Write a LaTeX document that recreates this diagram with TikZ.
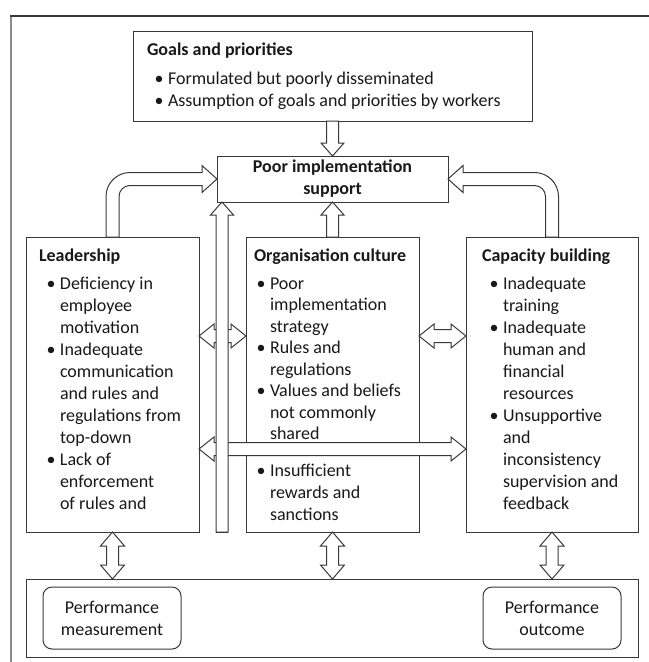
\documentclass[tikz,border=0pt]{standalone}
\usepackage{fontspec}
\setmainfont{Carlito}
\usetikzlibrary{calc}
\definecolor{linegray}{gray}{0.22}
\definecolor{framegray}{gray}{0.55}
\definecolor{inkgray}{gray}{0.1}
\newcommand\bodyfont{\fontsize{18bp}{22bp}\selectfont}
\newcommand\bul{\leavevmode\llap{•\hspace{4.5bp}}}

% vertical block arrow, #1 = tail, #2 = tip (tip above tail)
\newcommand\blockup[2]{%
  \filldraw[arr] let \p1=(#1), \p2=(#2) in
   (\x2-6bp,\y1) -- (\x2-6bp,\y2-13bp) -- (\x2-11.5bp,\y2-13bp) -- (\x2,\y2)
   -- (\x2+11.5bp,\y2-13bp) -- (\x2+6bp,\y2-13bp) -- (\x2+6bp,\y1) -- cycle;}
% vertical block arrow, tip below tail
\newcommand\blockdown[2]{%
  \filldraw[arr] let \p1=(#1), \p2=(#2) in
   (\x2-6bp,\y1) -- (\x2-6bp,\y2+13bp) -- (\x2-11.5bp,\y2+13bp) -- (\x2,\y2)
   -- (\x2+11.5bp,\y2+13bp) -- (\x2+6bp,\y2+13bp) -- (\x2+6bp,\y1) -- cycle;}
% vertical double block arrow, #1 = upper tip, #2 = lower tip
\newcommand\blockvv[2]{%
  \filldraw[arr] let \p1=(#1), \p2=(#2) in
   (\x1,\y1) -- (\x1+12bp,\y1-14bp) -- (\x1+6bp,\y1-14bp) -- (\x1+6bp,\y2+14bp)
   -- (\x1+12bp,\y2+14bp) -- (\x1,\y2) -- (\x1-12bp,\y2+14bp) -- (\x1-6bp,\y2+14bp)
   -- (\x1-6bp,\y1-14bp) -- (\x1-12bp,\y1-14bp) -- cycle;}
% horizontal double block arrow, #1 = left tip, #2 = right tip
\newcommand\blockhh[2]{%
  \filldraw[arr] let \p1=(#1), \p2=(#2) in
   (\x1,\y1) -- (\x1+15bp,\y1+12bp) -- (\x1+15bp,\y1+6.5bp) -- (\x2-15bp,\y1+6.5bp)
   -- (\x2-15bp,\y1+12bp) -- (\x2,\y1) -- (\x2-15bp,\y1-12bp) -- (\x2-15bp,\y1-6.5bp)
   -- (\x1+15bp,\y1-6.5bp) -- (\x1+15bp,\y1-12bp) -- cycle;}

\begin{document}
\begin{tikzpicture}[x=1bp,y=-1bp,
  every node/.style={inner sep=0pt, outer sep=0pt, font=\bodyfont, text=inkgray},
  box/.style={draw=linegray, line width=1bp, fill=white, anchor=north west},
  pbox/.style={box, rounded corners=9bp, align=center},
  arr/.style={draw=linegray, line width=1bp, fill=white, line join=miter},
  txt/.style={anchor=base west}]
\useasboundingbox (0,0) rectangle (649,662);

% outer frame
\draw[framegray, line width=1.5bp] (11,662) -- (11,16);
\draw[linegray, line width=1.5bp] (10.25,16) -- (649,16);

% boxes
\node[box, minimum width=399bp, minimum height=89bp] (goals) at (133,32) {};
\node[box, minimum width=231bp, minimum height=46bp, align=center,
      font=\bodyfont\bfseries] (poor) at (217,156) {Poor implementation\\support};
\node[box, minimum width=173bp, minimum height=295bp] (lead) at (26,237) {};
\node[box, minimum width=173bp, minimum height=295bp] (org) at (246,237) {};
\node[box, minimum width=172bp, minimum height=295bp] (cap) at (466,237) {};
\node[box, minimum width=612bp, minimum height=78bp] (bottom) at (26,579) {};
\node[pbox, minimum width=138bp, minimum height=62bp] (pm) at (43,587) {Performance\\measurement};
\node[pbox, minimum width=138bp, minimum height=62bp] (po) at (483,587) {Performance\\outcome};

% texts
\node[txt] (goalsT) at (147,56) {\bfseries Goals and priorities};
\node[txt] (goalsB) at (168,85) {\parbox[t]{360bp}{\bodyfont
  \bul Formulated but poorly disseminated\\
  \bul Assumption of goals and priorities by workers}};

\node[txt] (leadT) at (39,261) {\bfseries Leadership};
\node[txt] (leadB) at (60,289) {\parbox[t]{136bp}{\bodyfont
  \bul Deficiency in\\ employee\\ motivation\\
  \bul Inadequate\\ communication\\ and rules and\\ regulations from\\ top-down\\
  \bul Lack of\\ enforcement\\ of rules and}};

\node[txt] (orgT) at (254,261) {\bfseries Organisation culture};
\node[txt] (orgB) at (270,289) {\parbox[t]{146bp}{\fontsize{18bp}{21.5bp}\selectfont
  \bul Poor\\ implementation\\ strategy\\
  \bul Rules and\\ regulations\\
  \bul Values and beliefs\\ not commonly\\ shared}};
\node[txt] (orgC) at (270,476) {\parbox[t]{146bp}{\bodyfont
  \bul Insufficient\\ rewards and\\ sanctions}};

\node[txt] (capT) at (482,261) {\bfseries Capacity building};
\node[txt] (capB) at (503,289) {\parbox[t]{132bp}{\bodyfont
  \bul Inadequate\\ training\\
  \bul Inadequate\\ human and\\ financial\\ resources\\
  \bul Unsupportive\\ and\\ inconsistency\\ supervision and\\ feedback}};

% curved arrows from leadership and capacity building into the support box
\filldraw[arr] let \p1=(lead.north), \p2=(poor.west) in
  (\x1-6.5bp,\y1) -- (\x1-6.5bp,\y2-17.5bp)
  .. controls (\x1-6.5bp,\y2-4.25bp) and (\x1+4.25bp,\y2+6.5bp) .. (\x1+17.5bp,\y2+6.5bp)
  -- (\x2-15bp,\y2+6.5bp) -- (\x2-15bp,\y2+13.5bp) -- (\x2,\y2)
  -- (\x2-15bp,\y2-13.5bp) -- (\x2-15bp,\y2-6.5bp) -- (\x1+17.5bp,\y2-6.5bp)
  .. controls (\x1+11.43bp,\y2-6.5bp) and (\x1+6.5bp,\y2-11.43bp) .. (\x1+6.5bp,\y2-17.5bp)
  -- (\x1+6.5bp,\y1) -- cycle;
\filldraw[arr] let \p1=(cap.north), \p2=(poor.east) in
  (\x1+6.5bp,\y1) -- (\x1+6.5bp,\y2-17.5bp)
  .. controls (\x1+6.5bp,\y2-4.25bp) and (\x1-4.25bp,\y2+6.5bp) .. (\x1-17.5bp,\y2+6.5bp)
  -- (\x2+15bp,\y2+6.5bp) -- (\x2+15bp,\y2+13.5bp) -- (\x2,\y2)
  -- (\x2+15bp,\y2-13.5bp) -- (\x2+15bp,\y2-6.5bp) -- (\x1-17.5bp,\y2-6.5bp)
  .. controls (\x1-11.43bp,\y2-6.5bp) and (\x1-6.5bp,\y2-11.43bp) .. (\x1-6.5bp,\y2-17.5bp)
  -- (\x1-6.5bp,\y1) -- cycle;

% straight arrows into the support box
\blockdown{goals.south}{poor.north}
\blockup{org.north}{poor.south}

% horizontal links between the three columns
\coordinate (h1) at ($(lead.north east)+(0,99)$);
\coordinate (h2) at ($(org.north east)+(0,99)$);
\coordinate (h3) at ($(lead.north east)+(0,212)$);
\blockhh{h1}{h1 -| org.west}
\blockhh{h2}{h2 -| cap.west}
\blockhh{h3}{h3 -| cap.west}

% long arrow rising between leadership and organisation culture
\coordinate (lv) at ($(poor.south west)+(5,0)$);
\blockup{lv |- lead.south}{lv}
\draw[linegray, line width=1bp] let \p1=(lv |- lead.south) in (\x1-6bp,\y1) -- (\x1+6bp,\y1);

% links to the performance box
\blockvv{lead.south}{lead.south |- bottom.north}
\blockvv{org.south}{org.south |- bottom.north}
\blockvv{cap.south}{cap.south |- bottom.north}
\end{tikzpicture}
\end{document}
